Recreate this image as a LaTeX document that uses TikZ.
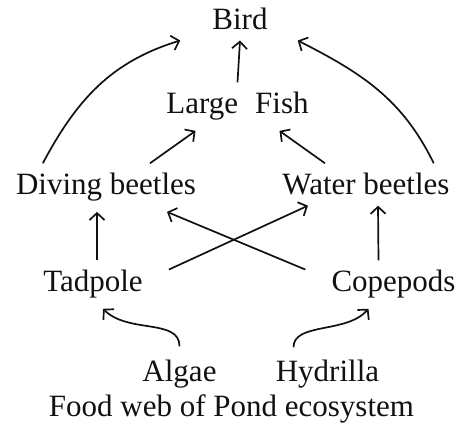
\documentclass[tikz,border=0pt]{standalone}
\usepackage{fontspec}
\setmainfont{Liberation Serif}
\usetikzlibrary{arrows.meta,positioning,calc}
\definecolor{Ink}{HTML}{111111}
\tikzset{taxon/.style={font=\fontsize{31}{36}\selectfont,text=Ink,anchor=base,inner xsep=2pt,inner ysep=10pt},feeds/.style={-{Straight Barb[length=7pt,width=15pt]},line width=1.7pt,draw=Ink}}

\begin{document}
\begin{tikzpicture}[x=1pt,y=1pt]
\useasboundingbox (0,0) rectangle (459,434);
\node[taxon] (bird) at (240,404) {Bird};
\node[taxon] (fish) at (237.5,320) {Large\hspace{17pt}Fish};
\node[taxon] (diving) at (106,239) {Diving beetles};
\node[taxon] (water) at (366,239) {Water beetles};
\node[taxon] (tadpole) at (93,142) {Tadpole};
\node[taxon] (copepods) at (393.5,142) {Copepods};
\node[taxon] (algae) at (179.5,52) {Algae};
\node[taxon] (hydrilla) at (327.5,52) {Hydrilla};
\node[taxon] (caption) at (231.5,17) {Food web of Pond ecosystem};
% to the bird
\draw[feeds] (fish.north) -- (bird.south);
\draw[feeds] ([xshift=29pt]diving.north west) to[out=62,in=197] ([xshift=-30pt]bird.south west);
\draw[feeds] ([xshift=-18pt]water.north east) to[out=116,in=-27] ([xshift=28pt]bird.south east);
% to the fish
\draw[feeds] ([xshift=44pt]diving.north) -- ([xshift=-42pt]fish.south);
\draw[feeds] ([xshift=-41pt]water.north) -- ([xshift=42pt]fish.south);
% beetles
\draw[feeds] ([xshift=4pt]tadpole.north) -- ([xshift=-9pt]diving.south);
\draw[feeds] ([xshift=-15pt]copepods.north) -- ([xshift=12pt]water.south);
\draw[feeds] ([xshift=24pt,yshift=15pt]tadpole.east) -- ([xshift=-58pt]water.south);
\draw[feeds] ([xshift=-24pt,yshift=15pt]copepods.west) -- ([xshift=61pt]diving.south);
% producers
\draw[feeds] ([yshift=4pt]algae.north) .. controls +(0,28) and +(25,-25) .. ([xshift=10pt]tadpole.south);
\draw[feeds] ([xshift=-34pt,yshift=3pt]hydrilla.north) .. controls +(0,25) and +(-22,-25) .. ([xshift=-25pt]copepods.south);
\end{tikzpicture}
\end{document}
